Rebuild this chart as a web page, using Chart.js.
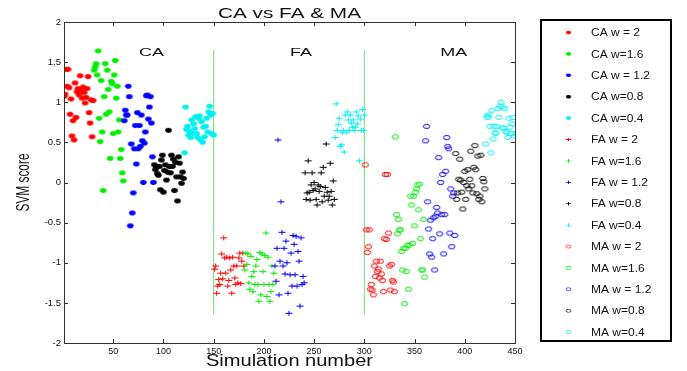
<!DOCTYPE html>
<html>
<head>
<meta charset="utf-8">
<title>CA vs FA & MA</title>
<script src="https://cdn.jsdelivr.net/npm/chart.js@4.4.1/dist/chart.umd.min.js"></script>
<style>
  html, body { margin: 0; padding: 0; background: #fff; }
  canvas { display: block; }
</style>
</head>
<body>
<canvas id="svmChart" width="687" height="371"></canvas>
<script>
// SVM scores per simulation, 30 runs per group
const caW2  = [1.07,1.10,1.41,1.20,1.41,1.18,0.85,1.04,0.58,0.77,0.53,1.24,0.81,1.13,1.17,1.09,1.33,1.15,1.05,1.19,1.12,0.99,1.06,1.17,1.32,0.87,0.74,1.03,0.57,1.02];
const caW16 = [1.40,1.44,1.48,1.34,1.64,0.80,0.51,1.27,0.63,-0.10,1.07,1.48,0.85,1.40,1.16,0.88,0.30,1.26,1.23,0.61,1.34,1.52,1.05,1.20,0.63,0.78,0.30,0.41,0.12,0.02];
const caW12 = [0.77,0.90,0.84,0.84,1.20,1.07,-0.54,0.48,-0.38,-0.13,0.42,0.71,0.23,0.87,0.42,0.71,0.45,0.84,0.52,0.00,0.49,0.63,1.08,1.09,0.79,0.94,1.07,0.74,0.32,0.00];
const caW08 = [0.22,0.16,0.20,0.11,0.09,0.20,-0.09,0.28,0.34,-0.12,0.15,0.22,0.03,0.13,0.65,0.20,0.12,0.34,0.20,0.29,-0.10,0.25,0.07,-0.23,0.32,0.24,0.07,-0.01,0.13,0.05];
const caW04 = [0.37,0.94,0.66,0.70,0.59,0.64,0.56,0.78,0.61,0.73,0.67,0.82,0.61,0.56,0.80,0.83,0.53,0.76,0.50,0.69,0.57,0.70,0.80,0.63,0.88,0.95,0.84,0.61,0.86,0.59];

const faW2  = [-1.08,-1.04,-1.38,-1.29,-1.21,-1.27,-1.13,-0.89,-1.20,-0.69,-0.94,-1.13,-0.93,-1.29,-1.22,-0.94,-1.09,-1.38,-0.93,-1.04,-1.19,-1.27,-1.04,-1.25,-0.94,-0.88,-1.26,-0.98,-0.88,-1.04];
const faW16 = [-1.09,-0.88,-1.02,-0.89,-1.25,-1.33,-0.92,-1.17,-1.36,-1.11,-1.27,-1.04,-0.96,-1.27,-1.48,-0.87,-1.40,-0.89,-1.11,-1.27,-0.91,-0.63,-1.42,-0.93,-1.27,-1.48,-1.36,-1.04,-1.27,-1.13];
const faW12 = [-1.04,-1.23,-0.82,0.53,-1.40,-0.98,-0.24,-0.62,-1.04,-0.82,-1.14,-0.73,-1.00,-1.38,-1.63,-1.15,-0.88,-1.29,-0.66,-0.77,-1.15,-0.67,-1.29,-0.86,-0.98,-1.54,-0.69,-1.27,-1.17,-1.25];
const faW08 = [0.12,-0.21,-0.13,0.27,-0.12,-0.22,-0.03,0.12,-0.10,0.00,-0.08,-0.21,-0.28,-0.03,-0.11,-0.05,0.12,-0.24,0.19,-0.17,-0.06,0.48,-0.12,-0.22,-0.17,0.24,-0.11,-0.28,0.02,-0.21];
const faW04 = [0.56,0.98,0.65,0.72,0.80,0.45,0.47,0.62,0.65,0.38,0.84,0.63,0.88,0.78,0.65,0.84,0.74,0.69,0.78,0.65,0.69,0.88,0.73,0.83,0.27,0.79,0.65,0.91,0.65,0.84];

const maW2  = [0.22,-0.59,-0.87,-0.80,-0.59,-1.33,-1.27,-1.34,-1.40,-1.04,-1.17,-0.98,-1.11,-1.08,-1.19,-0.98,-1.14,-1.22,-1.36,-0.70,0.10,-0.71,0.10,-0.63,-1.04,-1.34,-1.02,-1.22,-1.24,-1.36];
const maW16 = [0.57,-0.40,-0.64,-0.46,-0.59,-0.59,-0.86,-1.09,-0.82,-1.51,-0.82,-1.11,-0.78,-1.33,-0.78,-0.17,-0.28,-0.76,-0.17,-0.54,-0.12,-0.08,-0.03,-0.34,-0.02,-0.70,-1.09,-1.09,-0.46,-1.18];
const maW12 = [0.52,0.70,-0.24,-0.58,-0.89,-0.47,-0.93,-0.70,-0.44,-1.09,-0.42,-0.31,-0.38,0.31,-0.64,0.00,-0.40,0.10,-0.89,-0.40,0.14,0.56,0.45,0.42,-0.63,-0.08,-0.80,-0.17,-0.13,-0.66];
const maW08 = [0.36,-0.21,-0.13,0.04,0.29,0.03,-0.12,-0.33,0.00,0.14,-0.21,-0.04,0.16,-0.08,0.04,0.39,-0.04,-0.13,0.19,0.46,0.16,-0.14,0.33,-0.21,-0.17,0.34,-0.24,0.05,0.01,-0.08];
const maW04 = [0.48,0.83,0.81,0.84,0.70,0.37,0.90,0.54,0.70,0.62,0.61,0.70,0.92,0.81,0.95,1.00,0.68,0.94,0.68,0.92,0.63,0.63,0.56,0.80,0.69,0.61,0.73,0.81,0.58,0.61];

const seriesLabels = ['CA w = 2','CA w=1.6','CA w = 1.2','CA w=0.8','CA w=0.4',
                      'FA w = 2','FA w=1.6','FA w = 1.2','FA w=0.8','FA w=0.4',
                      'MA w = 2','MA w=1.6','MA w = 1.2','MA w=0.8','MA w=0.4'];
const seriesValues = [caW2, caW16, caW12, caW08, caW04,
                      faW2, faW16, faW12, faW08, faW04,
                      maW2, maW16, maW12, maW08, maW04];

const xTicks = [50,100,150,200,250,300,350,400,450];
const yTicks = [-2,-1.5,-1,-0.5,0,0.5,1,1.5,2];
const groupEdges = [150, 300];

// styling
const weightColors = ['#ff0000','#00ee00','#0000ff','#000000','#00f0f0'];
const groupMarkers = ['dot','plus','ring'];
const FONT = '"Liberation Sans", Arial, sans-serif';

function makeMarker(kind, color) {
  const c = document.createElement('canvas');
  c.width = 9; c.height = 7;
  const g = c.getContext('2d');
  g.fillStyle = color;
  g.strokeStyle = color;
  g.lineWidth = 1;
  g.beginPath();
  if (kind === 'dot') {
    g.ellipse(4.5, 3.5, 3.3, 2.4, 0, 0, Math.PI * 2);
    g.fill();
  } else if (kind === 'plus') {
    g.moveTo(1, 3.5); g.lineTo(8, 3.5);
    g.moveTo(4.5, 1); g.lineTo(4.5, 6);
    g.stroke();
  } else {
    g.ellipse(4.5, 3.5, 3.2, 2.1, 0, 0, Math.PI * 2);
    g.stroke();
  }
  return c;
}

const markers = seriesLabels.map((_, i) =>
  makeMarker(groupMarkers[Math.floor(i / 5)], weightColors[i % 5]));

const datasets = seriesValues.map((vals, i) => ({
  label: seriesLabels[i],
  data: vals.map((v, j) => ({ x: i * 30 + j + 1, y: v })),
  pointStyle: markers[i],
  pointRadius: 4,
  showLine: false,
  order: 20 - i
}));

groupEdges.forEach(xe => {
  datasets.push({
    label: 'edge',
    data: [{ x: xe, y: -1.65 }, { x: xe, y: 1.65 }],
    showLine: true,
    borderColor: 'rgb(110,225,110)',
    borderWidth: 1,
    pointRadius: 0,
    order: 30
  });
});

// draw text squeezed/stretched to a measured width
function fitText(ctx, text, x, y, size, width, opts = {}) {
  ctx.save();
  ctx.font = size + 'px ' + FONT;
  const w = ctx.measureText(text).width;
  ctx.translate(x, y);
  if (opts.rotate) ctx.rotate(opts.rotate);
  ctx.scale(width ? width / w : 1, opts.sy || 1);
  ctx.textAlign = opts.align || 'center';
  ctx.textBaseline = 'alphabetic';
  ctx.fillStyle = '#111';
  ctx.fillText(text, 0, 0);
  ctx.restore();
}

const decor = {
  id: 'decor',
  afterDraw(chart) {
    const { ctx, chartArea: a, scales: { x, y } } = chart;
    ctx.save();
    ctx.strokeStyle = '#333';
    ctx.lineWidth = 1;
    ctx.strokeRect(a.left + 0.5, a.top + 0.5, a.right - a.left, a.bottom - a.top);
    ctx.beginPath();
    xTicks.forEach(v => {
      const px = Math.round(x.getPixelForValue(v)) + 0.5;
      ctx.moveTo(px, a.bottom); ctx.lineTo(px, a.bottom - 4);
      ctx.moveTo(px, a.top); ctx.lineTo(px, a.top + 4);
    });
    yTicks.forEach(v => {
      const py = Math.round(y.getPixelForValue(v)) + 0.5;
      ctx.moveTo(a.left, py); ctx.lineTo(a.left + 4, py);
      ctx.moveTo(a.right, py); ctx.lineTo(a.right - 4, py);
    });
    ctx.stroke();

    // titles
    const cx = (a.left + a.right) / 2;
    fitText(ctx, 'CA vs FA & MA', cx, 17.5, 14, 143);
    fitText(ctx, 'Simulation number', cx, 366, 17, 167);
    fitText(ctx, 'SVM score', 28.5, (a.top + a.bottom) / 2, 13, 58, { rotate: -Math.PI / 2, sy: 1.4 });

    // group labels
    const ly = y.getPixelForValue(1.62) + 3.5;
    fitText(ctx, 'CA', x.getPixelForValue(88), ly, 10, 25);
    fitText(ctx, 'FA', x.getPixelForValue(237), ly, 10, 22);
    fitText(ctx, 'MA', x.getPixelForValue(389), ly, 10, 27);

    // legend box
    ctx.lineWidth = 2;
    ctx.strokeStyle = '#000';
    ctx.strokeRect(541, 20, 130, 321);
    seriesLabels.forEach((lab, i) => {
      const yy = 32.5 + i * 21.4;
      ctx.drawImage(markers[i], 565, yy - 2.5, 7, 5);
      ctx.save();
      ctx.font = '10px ' + FONT;
      ctx.translate(591, yy + 3.6);
      ctx.scale(1.2, 1);
      ctx.fillStyle = '#111';
      ctx.textBaseline = 'alphabetic';
      ctx.fillText(lab, 0, 0);
      ctx.restore();
    });
    ctx.restore();
  }
};

new Chart(document.getElementById('svmChart'), {
  type: 'scatter',
  data: { datasets },
  options: {
    responsive: false,
    animation: false,
    layout: { padding: { left: 0, top: 22, right: 172, bottom: 0 } },
    plugins: {
      legend: { display: false },
      tooltip: { enabled: false },
      title: { display: false }
    },
    scales: {
      x: {
        type: 'linear',
        min: 1,
        max: 450,
        grid: { display: false, drawTicks: false },
        border: { display: false },
        afterBuildTicks: s => { s.ticks = xTicks.map(v => ({ value: v })); },
        afterFit: s => { s.height = 28; },
        ticks: {
          autoSkip: false,
          maxRotation: 0,
          padding: 3,
          color: '#111',
          font: { family: FONT, size: 9 },
          callback: v => String(v)
        }
      },
      y: {
        type: 'linear',
        min: -2,
        max: 2,
        grid: { display: false, drawTicks: false },
        border: { display: false },
        afterBuildTicks: s => { s.ticks = yTicks.map(v => ({ value: v })); },
        afterFit: s => { s.width = 64; },
        ticks: {
          autoSkip: false,
          padding: 3,
          color: '#111',
          font: { family: FONT, size: 9.5 },
          callback: v => String(v)
        }
      }
    }
  },
  plugins: [decor]
});
</script>
</body>
</html>
